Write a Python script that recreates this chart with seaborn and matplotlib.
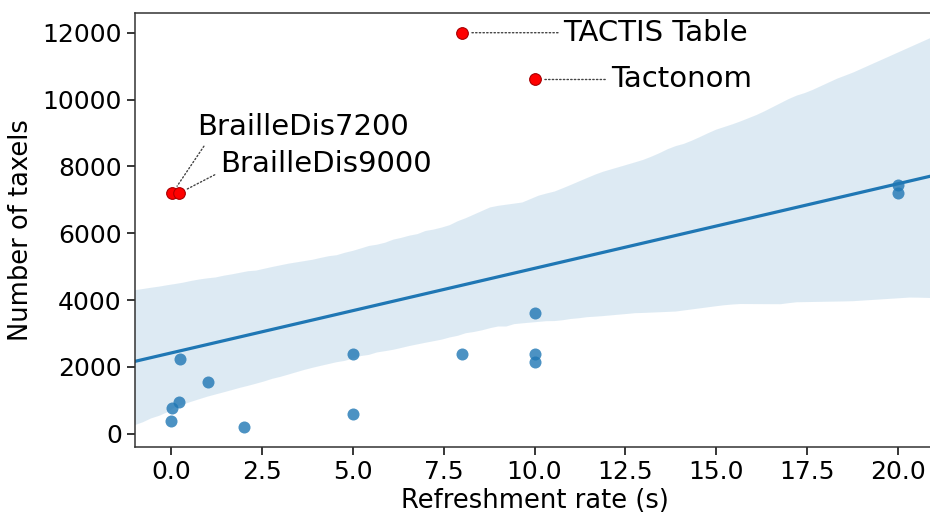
import numpy as np
import pandas as pd
import matplotlib
matplotlib.use("Agg")
import matplotlib.pyplot as plt
import seaborn as sns

# ---- data ----
refresh_other = [0, 0.03, 0.2, 0.25, 1, 2, 5, 5, 8, 10, 10, 10, 20, 20]
taxels_other = [384, 768, 960, 2240, 1536, 192, 2400, 600, 2400, 3600, 2400, 2160, 7450, 7200]

highlight_names = ["BrailleDis7200", "BrailleDis9000", "TACTIS Table", "Tactonom"]
refresh_highlight = [0.03, 0.22, 8, 10]
taxels_highlight = [7200, 7200, 12000, 10600]

x_ticks = [0.0, 2.5, 5.0, 7.5, 10.0, 12.5, 15.0, 17.5, 20.0]
y_ticks = [0, 2000, 4000, 6000, 8000, 10000, 12000]

# label anchor positions (layout only)
label_pos = [(0.70, 9174), (1.34, 8081), (10.8, 12000), (12.1, 10600)]
label_relpos = [(0.05, 0.0), (0.0, 0.2), (0.0, 0.5), (0.0, 0.5)]

df_all = pd.DataFrame({
    "Refreshment rate (s)": refresh_other + refresh_highlight,
    "Number of taxels": taxels_other + taxels_highlight,
})
df_hl = pd.DataFrame({
    "Refreshment rate (s)": refresh_highlight,
    "Number of taxels": taxels_highlight,
    "name": highlight_names,
})

fig = plt.figure(figsize=(9.3, 5.16), dpi=100)
W, H = 930, 516
ax = fig.add_axes([135 / W, (H - 447) / H, (934 - 135) / W, (447 - 13) / H])
ax.set_xlim(-1.0, 21.0)
ax.set_ylim(-398, 12590)

sns.regplot(data=df_all, x="Refreshment rate (s)", y="Number of taxels", ax=ax,
            color="#1f77b4", seed=1, truncate=False,
            scatter_kws={"s": 75, "alpha": 0.8, "linewidths": 0},
            line_kws={"lw": 2.3})
sns.scatterplot(data=df_hl, x="Refreshment rate (s)", y="Number of taxels", ax=ax,
                color="red", edgecolor="#b00000", linewidth=0.8, s=70, zorder=5)

for name, xv, yv, pos, rp in zip(highlight_names, refresh_highlight, taxels_highlight,
                                  label_pos, label_relpos):
    ax.annotate(name, xy=(xv, yv), xytext=pos, textcoords="data",
                ha="left", va="center", fontsize=21,
                arrowprops=dict(arrowstyle="-", ls=":", color="#444444", lw=1.0,
                                relpos=rp, shrinkA=2, shrinkB=6))

ax.set_xlim(-1.0, 21.0)
ax.set_ylim(-398, 12590)
ax.set_xticks(x_ticks)
ax.set_yticks(y_ticks)
ax.tick_params(labelsize=18, length=6, width=1.1)
ax.set_xlabel("Refreshment rate (s)", fontsize=18.5, labelpad=3)
ax.set_ylabel("Number of taxels", fontsize=18.5, labelpad=6)
for s in ax.spines.values():
    s.set_linewidth(1.1)
    s.set_color("#333333")

fig.savefig("out.png", dpi=100)
